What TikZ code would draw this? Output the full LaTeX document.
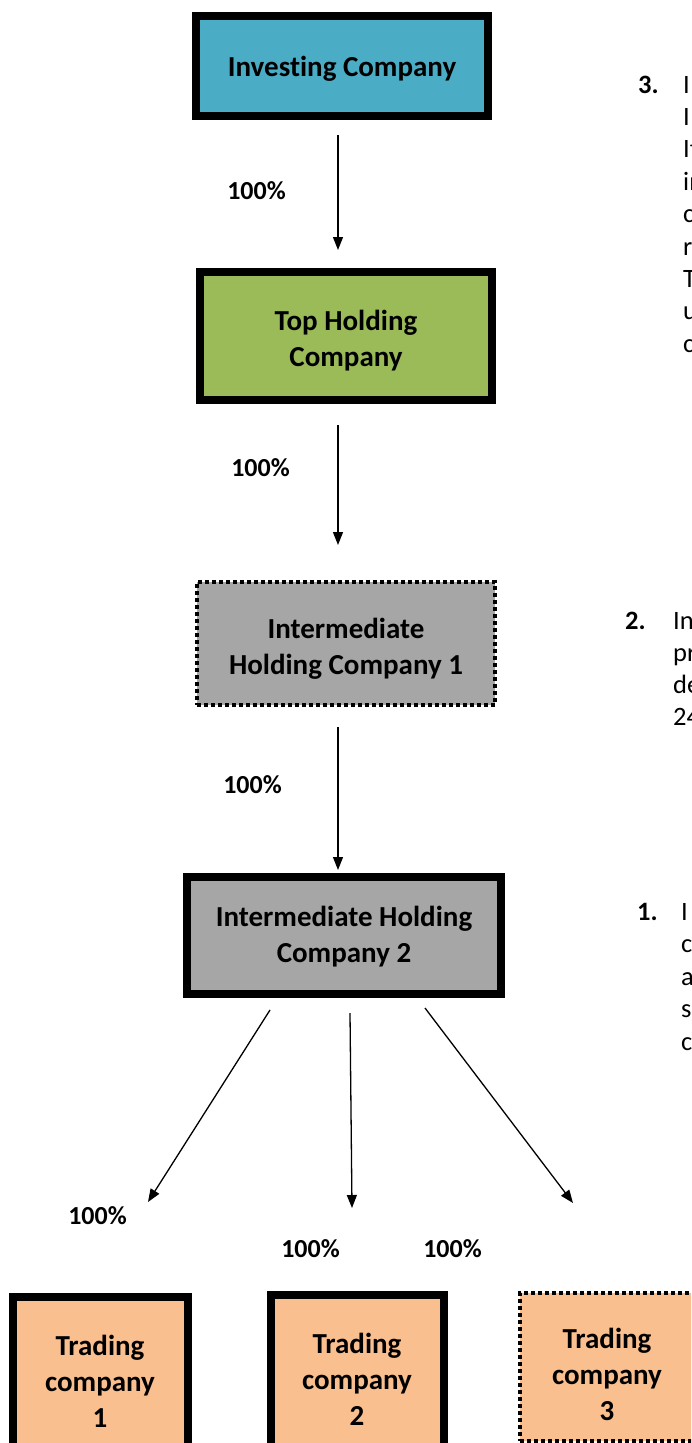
\documentclass[tikz,border=0pt]{standalone}
\usepackage{fontspec}
\setmainfont[Ligatures=NoCommon]{Carlito}
\usetikzlibrary{arrows.meta}

\definecolor{invblue}{HTML}{4BACC6}
\definecolor{topgreen}{HTML}{9BBB59}
\definecolor{midgray}{HTML}{A6A6A6}
\definecolor{tradeorange}{HTML}{F9BF8F}

\newcommand{\boxfont}{\fontsize{29}{36}\selectfont\bfseries}
\newcommand{\notefont}{\fontsize{26.5}{32.4}\selectfont}

\begin{document}
\begin{tikzpicture}[x=1pt, y=-1pt,
  solidbox/.style={draw=black, line width=8pt, inner sep=0pt},
  dotbox/.style={draw=black, line width=4pt, dash pattern=on 4pt off 3pt, inner sep=0pt},
  boxtext/.style={inner sep=0pt, align=center, font=\boxfont},
  pct/.style={inner sep=0pt, font=\fontsize{26}{30}\selectfont\bfseries},
  notenum/.style={inner sep=0pt, anchor=base west, font=\notefont\bfseries},
  noteline/.style={inner sep=0pt, anchor=base west, font=\notefont},
  link/.style={-{Triangle[length=13pt,width=10pt]}, line width=1.3pt}]

\useasboundingbox (0,0) rectangle (691,1443);
\begin{scope}
\clip (0,0) rectangle (691,1443);

% ownership chain
\node[solidbox, fill=invblue, minimum width=292pt, minimum height=100pt] (inv) at (342,66) {};
\node[solidbox, fill=topgreen, minimum width=292pt, minimum height=128pt] (top) at (346,336) {};
\node[dotbox, fill=midgray, minimum width=298pt, minimum height=123pt] (ihc1) at (346,643.5) {};
\node[solidbox, fill=midgray, minimum width=314pt, minimum height=117pt] (ihc2) at (344,935.5) {};
\node[boxtext] (invt) at (342,69) {Investing Company};
\node[boxtext] (topt) at (346,341) {Top Holding\\Company};
\node[boxtext] (ihc1t) at (346,649) {Intermediate\\Holding Company 1};
\node[boxtext] (ihc2t) at (344,936.5) {Intermediate Holding\\Company 2};

% trading companies (running off the lower edge)
\node[solidbox, fill=tradeorange, minimum width=175pt, minimum height=200pt] (tc1) at (100.5,1397) {};
\node[solidbox, fill=tradeorange, minimum width=173pt, minimum height=200pt] (tc2) at (357.5,1395) {};
\node[dotbox, fill=tradeorange, minimum width=182pt, minimum height=148pt] (tc3) at (611,1367) {};
\node[boxtext] (tc1t) at (100,1381) {Trading\\company\\1};
\node[boxtext] (tc2t) at (357,1379) {Trading\\company\\2};
\node[boxtext] (tc3t) at (607,1374) {Trading\\company\\3};

% connector ends
\coordinate (a1s) at (338,135);  \coordinate (a1e) at (338,250);
\coordinate (a2s) at (338,425);  \coordinate (a2e) at (338,545);
\coordinate (a3s) at (338,727);  \coordinate (a3e) at (338,870);
\coordinate (a4s) at (270,1010); \coordinate (a4e) at (148,1202);
\coordinate (a5s) at (350,1013); \coordinate (a5e) at (352,1208);
\coordinate (a6s) at (425,1008); \coordinate (a6e) at (573,1203);

\draw[link] (a1s) -- (a1e);
\draw[link] (a2s) -- (a2e);
\draw[link] (a3s) -- (a3e);
\draw[link] (a4s) -- (a4e);
\draw[link] (a5s) -- (a5e);
\draw[link] (a6s) -- (a6e);

% shareholding percentages
\node[pct] (p1) at (256.5,191) {100\%};
\node[pct] (p2) at (260.5,468) {100\%};
\node[pct] (p3) at (252.5,785) {100\%};
\node[pct] (p4) at (97.5,1216) {100\%};
\node[pct] (p5) at (310.5,1249) {100\%};
\node[pct] (p6) at (452.5,1249) {100\%};

% numbered notes along the right margin
\node[notenum] (n3) at (638,93) {3.};
\foreach \t [count=\i from 0] in {I,I,It,in,c,r,T,u,c}
  \node[noteline] (n3-\i) at (683,93+32.4*\i) {\t};

\node[notenum] (n2) at (625,629) {2.};
\foreach \t [count=\i from 0] in {In,pr,de,24}
  \node[noteline] (n2-\i) at (673,629+32*\i) {\t};

\node[notenum] (n1) at (637,920) {1.};
\foreach \t [count=\i from 0] in {I,c,a,s,c}
  \node[noteline] (n1-\i) at (681,920+32.5*\i) {\t};

\end{scope}
\end{tikzpicture}
\end{document}
